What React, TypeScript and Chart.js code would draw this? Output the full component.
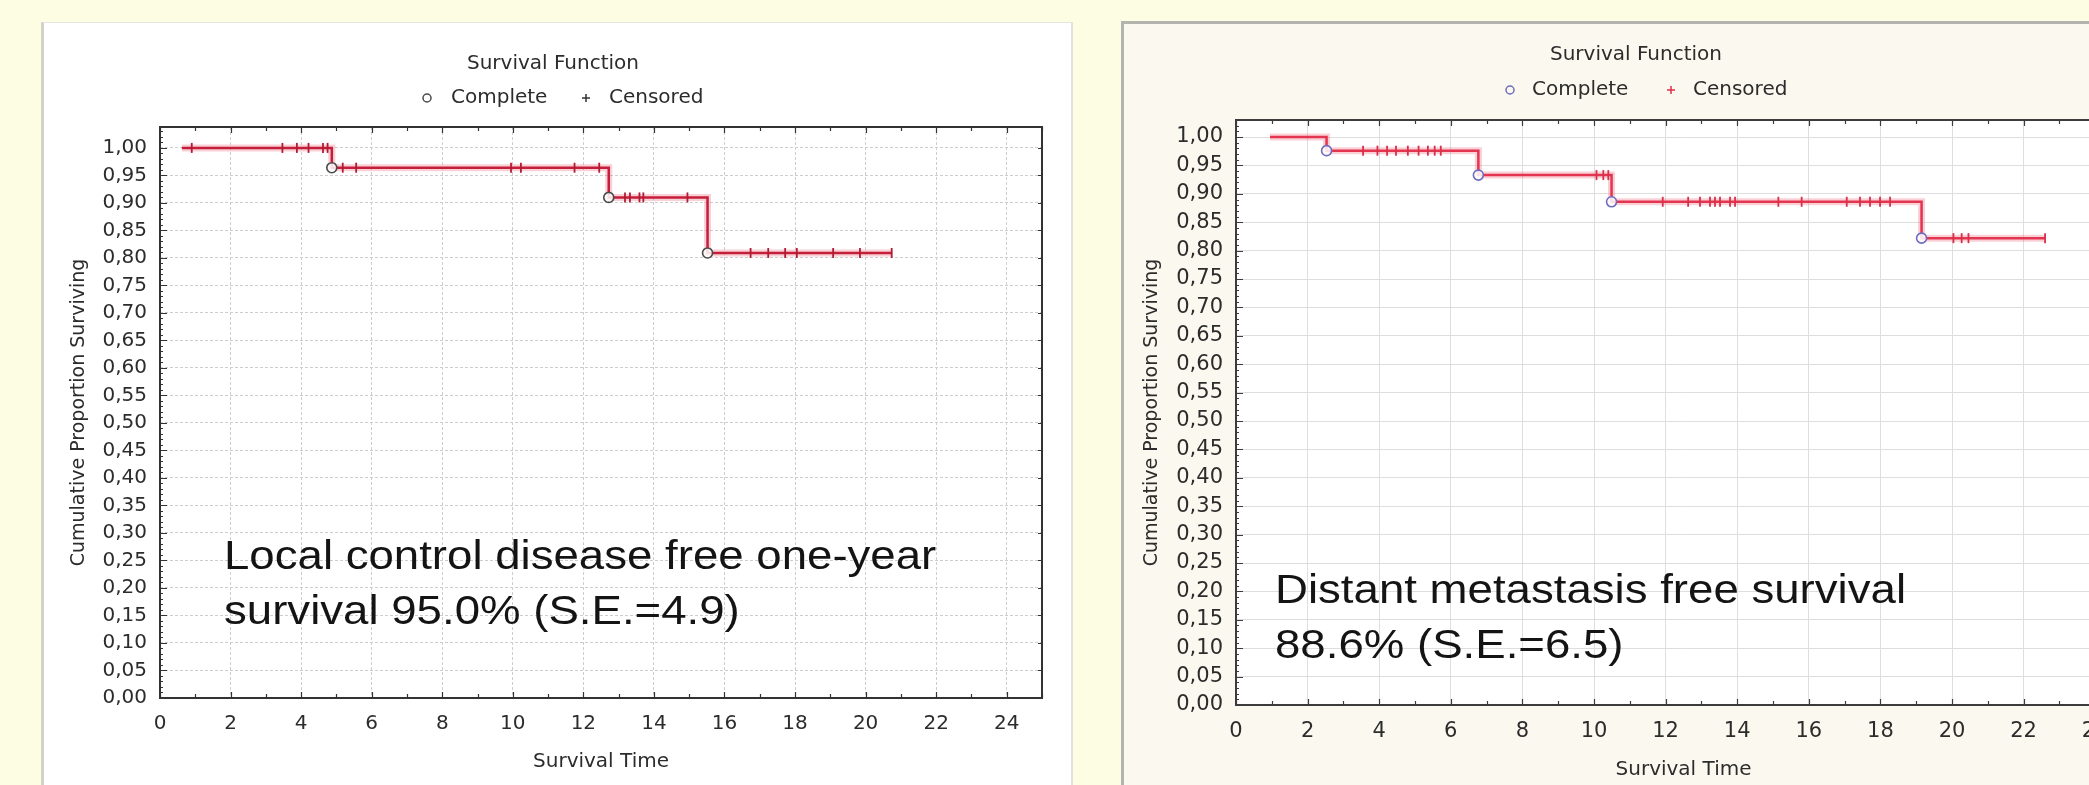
import React, { useEffect, useRef } from 'react';
import { Chart, registerables } from 'chart.js';

Chart.register(...registerables);

// ---------- shared labels / ticks ----------
const chartTitle = 'Survival Function';
const legendLabels = ['Complete', 'Censored'];
const xAxisTitle = 'Survival Time';
const yAxisTitle = 'Cumulative Proportion Surviving';
const xTickValues = [0, 2, 4, 6, 8, 10, 12, 14, 16, 18, 20, 22, 24];
const yTickValues = [
  0, 0.05, 0.1, 0.15, 0.2, 0.25, 0.3, 0.35, 0.4, 0.45, 0.5,
  0.55, 0.6, 0.65, 0.7, 0.75, 0.8, 0.85, 0.9, 0.95, 1.0,
];

// ---------- left chart: local control ----------
const leftStartTime = 0.62;
const leftEventTimes = [4.87, 12.72, 15.52];
const leftLevels = [1.0, 0.964, 0.91, 0.809];
const leftCensoredTimes = [
  0.9, 3.47, 3.88, 4.21, 4.62, 4.75,
  5.18, 5.56, 9.95, 10.23, 11.75, 12.45,
  13.18, 13.32, 13.59, 13.7, 14.95,
  16.74, 17.24, 17.72, 18.05, 19.08, 19.84, 20.74,
];
const leftCaption = ['Local control disease free one-year', 'survival 95.0% (S.E.=4.9)'];

// ---------- right chart: distant metastasis ----------
const rightStartTime = 0.95;
const rightEventTimes = [2.53, 6.77, 10.49, 19.15];
const rightLevels = [1.0, 0.976, 0.933, 0.886, 0.822];
const rightCensoredTimes = [
  3.55, 3.95, 4.22, 4.47, 4.8, 5.1, 5.36, 5.55, 5.72,
  10.07, 10.26, 10.4,
  11.92, 12.63, 12.96, 13.24, 13.38, 13.52, 13.8, 13.94, 15.15, 15.8,
  17.06, 17.43, 17.71, 17.99, 18.27,
  20.04, 20.27, 20.46, 22.6,
];
const rightCaption = ['Distant metastasis free survival', '88.6% (S.E.=6.5)'];

// ---------- helpers ----------
function levelAt(t: number, events: number[], levels: number[]) {
  let i = 0;
  while (i < events.length && events[i] <= t) i++;
  return levels[i];
}
function stepPoints(start: number, events: number[], levels: number[], end: number) {
  const pts = [{ x: start, y: levels[0] }];
  events.forEach((e, i) => pts.push({ x: e, y: levels[i + 1] }));
  pts.push({ x: end, y: levels[levels.length - 1] });
  return pts;
}

type Spec = {
  left: number; top: number; width: number; height: number;
  padding: { left: number; top: number; right: number; bottom: number };
  xMax: number; yMax: number;
  start: number; events: number[]; levels: number[]; censored: number[];
  caption: string[];
  lineColor: string; haloColor: string; eventColor: string; censorColor: string;
  legendCensorColor: string; plotBg: string;
  gridColor: string; gridDash: number[]; frameColor: string;
  tickSize: number;
  titleX: number; titleY: number; legendY: number;
  legendCircleX: number; legendCompleteX: number; legendPlusX: number; legendCensoredX: number;
  xTitleY: number; yTitleX: number;
  captionX: number; captionY1: number; captionY2: number;
};

const FONT = '"DejaVu Sans", Verdana, sans-serif';
const TEXT = '#2c2c2c';

function SurvivalChart({ spec }: { spec: Spec }) {
  const ref = useRef<HTMLCanvasElement>(null);
  useEffect(() => {
    if (!ref.current) return;
    const s = spec;
    const end = s.censored[s.censored.length - 1];
    const line = stepPoints(s.start, s.events, s.levels, end);
    const eventPts = s.events.map((e) => ({ x: e, y: levelAt(e, s.events, s.levels) }));
    const censorPts = s.censored.map((c) => ({ x: c, y: levelAt(c, s.events, s.levels) }));

    const decor = {
      id: 'decor',
      beforeDraw(chart: any) {
        const { ctx, chartArea: a } = chart;
        ctx.save();
        ctx.fillStyle = s.plotBg;
        ctx.fillRect(a.left, a.top, a.right - a.left, a.bottom - a.top);
        ctx.restore();
      },
      afterDraw(chart: any) {
        const { ctx, chartArea: a, scales } = chart;
        const x = scales.x;
        const y = scales.y;
        ctx.save();
        // frame
        ctx.strokeStyle = s.frameColor;
        ctx.lineWidth = 2;
        ctx.strokeRect(a.left, a.top, a.right - a.left, a.bottom - a.top);
        // minor ticks
        ctx.lineWidth = 1.2;
        ctx.beginPath();
        for (let v = 0; v <= s.xMax; v += 1) {
          const px = Math.round(x.getPixelForValue(v)) + 0.5;
          const len = v % 2 === 0 ? 6 : 4;
          ctx.moveTo(px, a.bottom); ctx.lineTo(px, a.bottom - len);
          ctx.moveTo(px, a.top); ctx.lineTo(px, a.top + len);
        }
        for (let k = 0; k <= Math.floor(s.yMax * 100); k++) {
          const py = Math.round(y.getPixelForValue(k / 100)) + 0.5;
          const len = k % 5 === 0 ? 7 : 3;
          ctx.moveTo(a.left, py); ctx.lineTo(a.left + len, py);
          if (k % 5 === 0) { ctx.moveTo(a.right, py); ctx.lineTo(a.right - 4, py); }
        }
        ctx.stroke();

        // title & legend
        ctx.fillStyle = TEXT;
        ctx.font = `20px ${FONT}`;
        ctx.textAlign = 'center';
        ctx.textBaseline = 'middle';
        ctx.fillText(chartTitle, s.titleX, s.titleY);
        ctx.textAlign = 'left';
        ctx.fillText(legendLabels[0], s.legendCompleteX, s.legendY);
        ctx.fillText(legendLabels[1], s.legendCensoredX, s.legendY);
        ctx.strokeStyle = s.eventColor;
        ctx.lineWidth = 1.5;
        ctx.beginPath();
        ctx.arc(s.legendCircleX, s.legendY, 4, 0, Math.PI * 2);
        ctx.stroke();
        ctx.strokeStyle = s.legendCensorColor;
        ctx.beginPath();
        ctx.moveTo(s.legendPlusX - 4, s.legendY); ctx.lineTo(s.legendPlusX + 4, s.legendY);
        ctx.moveTo(s.legendPlusX, s.legendY - 4); ctx.lineTo(s.legendPlusX, s.legendY + 4);
        ctx.stroke();

        // axis titles
        ctx.textAlign = 'center';
        ctx.fillText(xAxisTitle, (a.left + a.right) / 2, s.xTitleY);
        ctx.save();
        ctx.translate(s.yTitleX, (a.top + a.bottom) / 2);
        ctx.rotate(-Math.PI / 2);
        ctx.font = `19px ${FONT}`;
        ctx.fillText(yAxisTitle, 0, 0);
        ctx.restore();

        // caption
        ctx.save();
        ctx.fillStyle = '#141414';
        ctx.font = '40px "Liberation Sans", Arial, sans-serif';
        ctx.textAlign = 'left';
        ctx.textBaseline = 'alphabetic';
        ctx.translate(s.captionX, 0);
        ctx.scale(1.14, 1);
        ctx.fillText(s.caption[0], 0, s.captionY1);
        ctx.fillText(s.caption[1], 0, s.captionY2);
        ctx.restore();
        ctx.restore();
      },
    };

    const chart = new Chart(ref.current, {
      type: 'line',
      data: {
        datasets: [
          {
            data: line, stepped: 'before', borderColor: s.haloColor, borderWidth: 7,
            pointRadius: 0, fill: false, order: 4,
          },
          {
            data: line, stepped: 'before', borderColor: s.lineColor, borderWidth: 2.5,
            pointRadius: 0, fill: false, order: 3,
          },
          {
            data: censorPts, showLine: false, pointStyle: 'line', pointRotation: 90,
            pointRadius: 5, pointBorderWidth: 1.8, pointBorderColor: s.censorColor,
            borderColor: s.censorColor, order: 2,
          },
          {
            data: eventPts, showLine: false, pointStyle: 'circle', pointRadius: 5,
            pointBorderWidth: 1.6, pointBorderColor: s.eventColor,
            pointBackgroundColor: 'rgba(255,255,255,0.85)', order: 1,
          },
        ] as any,
      },
      options: {
        animation: false,
        responsive: false,
        maintainAspectRatio: false,
        layout: { padding: s.padding },
        plugins: { legend: { display: false }, tooltip: { enabled: false }, title: { display: false } },
        scales: {
          x: {
            type: 'linear', min: 0, max: s.xMax,
            afterBuildTicks: (scale: any) => { scale.ticks = xTickValues.map((v) => ({ value: v })); },
            afterFit: (scale: any) => { scale.height = 60; },
            grid: { color: s.gridColor, drawTicks: false, lineWidth: 1 },
            border: { display: false, dash: s.gridDash },
            ticks: {
              padding: 14, color: TEXT, maxRotation: 0, autoSkip: false,
              font: { family: FONT, size: s.tickSize },
              callback: (v: any) => String(v),
            },
          },
          y: {
            type: 'linear', min: 0, max: s.yMax,
            afterBuildTicks: (scale: any) => { scale.ticks = yTickValues.map((v) => ({ value: v })); },
            afterFit: (scale: any) => { scale.width = 100; },
            grid: { color: s.gridColor, drawTicks: false, lineWidth: 1 },
            border: { display: false, dash: s.gridDash },
            ticks: {
              padding: 13, color: TEXT, autoSkip: false,
              font: { family: FONT, size: s.tickSize },
              callback: (v: any) => Number(v).toFixed(2).replace('.', ','),
            },
          },
        },
      } as any,
      plugins: [decor],
    });
    return () => chart.destroy();
  }, [spec]);

  return (
    <canvas
      ref={ref}
      width={spec.width}
      height={spec.height}
      style={{ position: 'absolute', left: spec.left, top: spec.top, width: spec.width, height: spec.height }}
    />
  );
}

const leftSpec: Spec = {
  left: 43, top: 23, width: 1030, height: 762,
  padding: { left: 17, top: 104, right: 31, bottom: 27 },
  xMax: 25, yMax: 1.038,
  start: leftStartTime, events: leftEventTimes, levels: leftLevels, censored: leftCensoredTimes,
  caption: leftCaption,
  lineColor: '#c41e3a', haloColor: 'rgba(236,100,120,0.30)', eventColor: '#4a4a4a',
  censorColor: '#b01c34', legendCensorColor: '#333', plotBg: '#ffffff',
  gridColor: '#cdcdcd', gridDash: [3, 2], frameColor: '#333',
  tickSize: 20,
  titleX: 510, titleY: 41, legendY: 75,
  legendCircleX: 384, legendCompleteX: 408, legendPlusX: 543, legendCensoredX: 566,
  xTitleY: 739, yTitleX: 36,
  captionX: 181, captionY1: 546, captionY2: 601,
};

const rightSpec: Spec = {
  left: 1123, top: 23, width: 1030, height: 762,
  padding: { left: 13, top: 97, right: 22, bottom: 20 },
  xMax: 25, yMax: 1.03,
  start: rightStartTime, events: rightEventTimes, levels: rightLevels, censored: rightCensoredTimes,
  caption: rightCaption,
  lineColor: '#e3354f', haloColor: 'rgba(240,110,130,0.32)', eventColor: '#6c6cc0',
  censorColor: '#d8304a', legendCensorColor: '#e0304a', plotBg: '#ffffff',
  gridColor: '#dedede', gridDash: [], frameColor: '#3c3c3c',
  tickSize: 21,
  titleX: 513, titleY: 32, legendY: 67,
  legendCircleX: 387, legendCompleteX: 409, legendPlusX: 548, legendCensoredX: 570,
  xTitleY: 747, yTitleX: 29,
  captionX: 152, captionY1: 580, captionY2: 635,
};

export default function App() {
  return (
    <div
      style={{
        position: 'fixed', left: 0, top: 0, width: 2089, height: 785,
        overflow: 'hidden', background: '#fdfde4',
      }}
    >
      <div
        style={{
          position: 'absolute', left: 41, top: 22, width: 1032, height: 800,
          background: '#ffffff', borderLeft: '3px solid #d2d2ca', borderTop: '1px solid #e6e6e0',
          borderRight: '2px solid #e2e2dc', boxSizing: 'border-box',
        }}
      />
      <div
        style={{
          position: 'absolute', left: 1121, top: 21, width: 1100, height: 800,
          background: '#fbf9ef', border: '3px solid #b4b4ae', boxSizing: 'border-box',
        }}
      />
      <SurvivalChart spec={leftSpec} />
      <SurvivalChart spec={rightSpec} />
    </div>
  );
}
